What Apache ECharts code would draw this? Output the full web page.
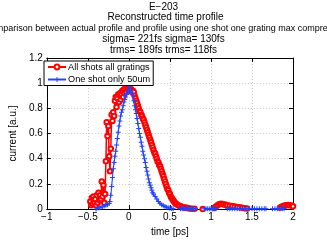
<!DOCTYPE html>
<html><head><meta charset="utf-8">
<script src="https://cdn.jsdelivr.net/npm/echarts@6/dist/echarts.min.js"></script>
<style>html,body{margin:0;padding:0;background:#fff}#c{width:327px;height:242px}</style>
</head><body><div id="c"></div>
<script>
var titleLines = ["E\u2212203", "Reconstructed time profile",
  "Comparison between actual profile and profile using one shot one grating max compression",
  "sigma= 221fs sigma= 130fs", "trms= 189fs trms= 118fs"];
var xTicks = [-1, -0.5, 0, 0.5, 1, 1.5, 2];
var yTicks = [0, 0.2, 0.4, 0.6, 0.8, 1, 1.2];
var seriesNames = ["All shots all gratings", "One shot only 50um"];

var timeRed = [-0.47,-0.46,-0.45,-0.44,-0.43,-0.42,-0.41,-0.40,-0.39,-0.38,-0.37,-0.36,-0.35,-0.34,-0.33,-0.32,-0.31,-0.30,-0.29,-0.28,-0.27,-0.26,-0.25,-0.24,-0.23,-0.22,-0.21,-0.20,-0.19,-0.18,-0.17,-0.16,-0.15,-0.14,-0.13,-0.12,-0.11,-0.10,-0.09,-0.08,-0.07,-0.06,-0.05,-0.04,-0.03,-0.02,-0.01,0.00,0.01,0.02,0.03,0.04,0.05,0.06,0.07,0.08,0.09,0.10,0.11,0.12,0.13,0.14,0.15,0.16,0.17,0.18,0.19,0.20,0.21,0.22,0.23,0.24,0.25,0.26,0.27,0.28,0.29,0.30,0.31,0.32,0.33,0.34,0.35,0.36,0.37,0.38,0.39,0.40,0.41,0.42,0.43,0.44,0.45,0.46,0.47,0.48,0.49,0.50,0.51,0.52,0.53,0.54,0.55,0.56,0.57,0.58,0.60,0.62,0.64,0.66,0.68,0.70,0.72,0.74,0.77,0.80,
  0.85,0.90,0.95,
  1.04,1.06,1.08,1.10,1.12,1.14,1.16,1.18,1.20,1.23,1.26,1.29,1.32,1.35,1.38,1.41,1.44,
  1.50,
  1.84,1.86,1.88,1.90,1.92,1.94,1.96,1.98,2.00];
var currentRed = [0.06,0.03,0.09,0.04,0.10,0.05,0.08,0.03,0.11,0.05,0.13,0.07,0.11,0.08,0.22,0.10,0.19,0.05,0.12,0.38,0.69,0.58,0.66,0.42,0.30,0.48,0.75,0.70,0.77,0.74,0.86,0.89,0.81,0.88,0.91,0.85,0.92,0.87,0.91,0.94,0.89,0.95,0.92,0.96,0.93,0.97,0.95,0.98,0.96,0.94,0.95,0.93,0.94,0.93,0.90,0.88,0.86,0.84,0.82,0.80,0.78,0.77,0.75,0.74,0.72,0.71,0.69,0.67,0.65,0.63,0.61,0.59,0.57,0.55,0.53,0.51,0.49,0.47,0.45,0.44,0.42,0.40,0.38,0.37,0.35,0.34,0.32,0.30,0.28,0.26,0.24,0.22,0.20,0.18,0.16,0.15,0.13,0.12,0.10,0.09,0.08,0.07,0.06,0.05,0.045,0.04,0.03,0.025,0.02,0.015,0.012,0.01,0.008,0.005,0.003,0.002,
  null,0.0,null,
  0.008,0.02,0.03,0.038,0.042,0.04,0.037,0.034,0.03,0.027,0.024,0.02,0.017,0.014,0.01,0.007,0.004,
  null,
  0.01,0.018,0.024,0.029,0.031,0.032,0.03,0.028,0.022];

var timeBlue = [-0.40,-0.38,-0.36,-0.34,-0.32,-0.30,-0.28,-0.26,-0.24,-0.23,-0.22,-0.21,-0.20,-0.19,-0.18,-0.17,-0.16,-0.15,-0.14,-0.13,-0.12,-0.11,-0.10,-0.09,-0.08,-0.07,-0.06,-0.05,-0.04,-0.03,-0.02,-0.01,0.00,0.01,0.02,0.03,0.04,0.05,0.06,0.07,0.08,0.09,0.10,0.11,0.12,0.13,0.14,0.15,0.16,0.17,0.18,0.19,0.20,0.21,0.22,0.23,0.24,0.25,0.26,0.27,0.28,0.29,0.30,0.32,0.34,0.36,0.38,0.40,0.42,0.44,0.46,0.48,0.50,0.52,0.54,
  0.58,
  0.63,0.65,0.67,0.69,0.71,0.73,0.75,0.77,0.79,0.81,
  0.86,
  0.92,0.94,0.96,0.98,1.00,1.02,1.04,1.06,
  1.12,
  1.20,1.23,1.26,1.29,1.32,1.35,1.38,1.41,1.44,1.46,
  1.48,
  1.50,1.53,1.56,1.59,1.62,1.65,1.67,
  1.71,
  1.75,1.78,1.81,1.84,1.87,1.89];
var currentBlue = [0.00,0.01,0.01,0.015,0.02,0.025,0.03,0.035,0.045,0.06,0.11,0.18,0.25,0.32,0.37,0.42,0.46,0.51,0.56,0.61,0.66,0.70,0.74,0.77,0.79,0.82,0.85,0.87,0.89,0.91,0.93,0.95,0.99,0.97,0.94,0.93,0.92,0.90,0.86,0.82,0.79,0.76,0.72,0.68,0.64,0.60,0.57,0.53,0.50,0.46,0.43,0.40,0.37,0.33,0.30,0.27,0.24,0.21,0.19,0.17,0.15,0.13,0.12,0.10,0.08,0.06,0.045,0.035,0.027,0.02,0.015,0.01,0.006,0.004,0.003,
  null,
  0.003,0.003,0.002,0.002,0.002,0.002,0.002,0.002,0.002,0.002,
  null,
  0.002,0.002,0.002,0.002,0.002,0.002,0.002,0.002,
  null,
  0.002,0.002,0.002,0.002,0.002,0.002,0.002,0.002,0.002,0.002,
  null,
  0.002,0.002,0.002,0.002,0.002,0.002,0.002,
  null,
  0.002,0.002,0.002,0.002,0.002,0.002];

function pairs(xs, ys) { return xs.map(function (x, i) { return [x, ys[i]]; }); }
function fmtNum(v) { return String(v).replace('-', '\u2212'); }

var FONT = "'Liberation Sans', Arial, Helvetica, sans-serif";
var chart = echarts.init(document.getElementById('c'));
var plus = 'path://M4,0h2v4h4v2h-4v4h-2v-4h-4v-2h4z';
var axisCommon = {
  type: 'value', min: -1, max: 2, interval: 0.5,
  axisLine: { show: true, onZero: false, lineStyle: { color: '#000', width: 1 } },
  axisTick: { show: true, inside: true, length: 4, lineStyle: { color: '#000' } }
};
var titleX = [163.5, 165.5, 166.5, 163.5, 163.5];
var titleY = [7, 17, 28.5, 39.5, 50.5];
var titleSize = [10, 10, 9.0, 10, 10];
chart.setOption({
  animation: false,
  textStyle: { fontFamily: FONT },
  grid: { left: 41, right: 34, top: 58, bottom: 23, containLabel: false },
  graphic: titleLines.map(function (t, i) {
    return { type: 'text', x: titleX[i], y: titleY[i],
      style: { text: t, fontSize: titleSize[i], fontFamily: FONT, fill: '#000', align: 'center', verticalAlign: 'middle' } };
  }),
  legend: {
    orient: 'vertical', left: 44, top: 61, padding: [1, 3, 1, 3], itemGap: 2.5,
    itemWidth: 18, itemHeight: 6, borderColor: '#000', borderWidth: 1, backgroundColor: '#fff',
    textStyle: { fontSize: 9.2, lineHeight: 10, fontFamily: FONT, color: '#000', padding: [0, 0, 0, -3] },
    data: seriesNames
  },
  xAxis: [
    Object.assign({}, axisCommon, {
      position: 'bottom', name: 'time [ps]', nameLocation: 'middle', nameGap: 16,
      nameTextStyle: { fontSize: 10, color: '#000', fontFamily: FONT },
      axisLabel: { fontSize: 10, color: '#000', margin: 3, formatter: fmtNum, fontFamily: FONT },
      splitLine: { show: true, lineStyle: { color: '#c8c8c8', type: [1, 2], width: 1 } }
    }),
    Object.assign({}, axisCommon, { position: 'top', axisLabel: { show: false }, splitLine: { show: false } })
  ],
  yAxis: [
    { type: 'value', min: 0, max: 1.2, interval: 0.2, position: 'left',
      name: 'current [a.u.]', nameLocation: 'middle', nameGap: 22,
      nameTextStyle: { fontSize: 10, color: '#000', fontFamily: FONT },
      axisLine: { show: true, onZero: false, lineStyle: { color: '#000' } },
      axisTick: { show: true, inside: true, length: 4, lineStyle: { color: '#000' } },
      axisLabel: { fontSize: 10, color: '#000', margin: 4, fontFamily: FONT },
      splitLine: { show: true, lineStyle: { color: '#c8c8c8', type: [1, 2], width: 1 } } },
    { type: 'value', min: 0, max: 1.2, interval: 0.2, position: 'right',
      axisLine: { show: true, onZero: false, lineStyle: { color: '#000' } },
      axisTick: { show: true, inside: true, length: 4, lineStyle: { color: '#000' } },
      axisLabel: { show: false }, splitLine: { show: false } }
  ],
  series: [
    { name: seriesNames[0], type: 'line', data: pairs(timeRed, currentRed),
      connectNulls: false, symbol: 'emptyCircle', symbolSize: 4.5, showAllSymbol: true,
      itemStyle: { color: '#ff0000', borderColor: '#ff0000', borderWidth: 1.5 },
      lineStyle: { color: '#ff0000', width: 1.5 }, z: 2 },
    { name: seriesNames[1], type: 'line', data: pairs(timeBlue, currentBlue),
      connectNulls: false, symbol: plus, symbolSize: 5, showAllSymbol: true,
      itemStyle: { color: '#2244ff' },
      lineStyle: { color: '#2244ff', width: 1.1 }, z: 3 }
  ]
});
</script></body></html>
